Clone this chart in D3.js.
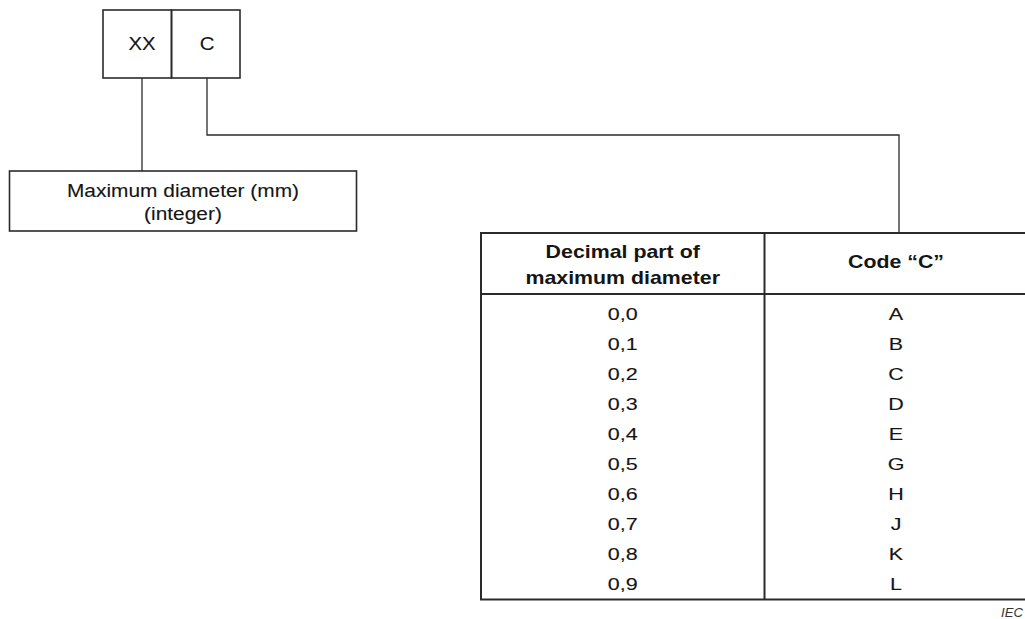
<!DOCTYPE html>
<html>
<head>
<meta charset="utf-8">
<script src="https://cdn.jsdelivr.net/npm/d3@7"></script>
<style>
  html, body { margin: 0; padding: 0; background: #fff; }
  svg { display: block; font-family: "Liberation Sans", Arial, sans-serif; }
</style>
</head>
<body>
<svg id="chart" width="1025" height="619"></svg>
<script>
// ---- data ----
const codeParts = ["XX", "C"];
const leftLabel = ["Maximum diameter (mm)", "(integer)"];
const headers = [["Decimal part of", "maximum diameter"], ["Code \u201cC\u201d"]];
const decimals = ["0,0", "0,1", "0,2", "0,3", "0,4", "0,5", "0,6", "0,7", "0,8", "0,9"];
const codes = ["A", "B", "C", "D", "E", "G", "H", "J", "K", "L"];
const footer = "IEC";

const svg = d3.select("#chart");
const ink = "#151515";
const lineCol = "#2b2b2b";
const thin = 0.12;

// ---- top code box ----
const boxX = d3.scaleBand().domain(codeParts).range([103, 240]);
const boxTop = 10, boxBottom = 78;
const gTop = svg.append("g");
gTop.selectAll("rect").data(codeParts).join("rect")
  .attr("x", d => boxX(d)).attr("y", boxTop)
  .attr("width", boxX.bandwidth()).attr("height", boxBottom - boxTop)
  .attr("fill", "none").attr("stroke", lineCol).attr("stroke-width", 1.6);
const anchorX = { "XX": 142, "C": 207 };
gTop.selectAll("text").data(codeParts).join("text")
  .attr("transform", d => `translate(${anchorX[d]},50) scale(1.1,1)`)
  .attr("text-anchor", "middle").attr("font-size", 18.5).attr("fill", ink)
  .attr("stroke", ink).attr("stroke-width", thin)
  .text(d => d);

// ---- connectors ----
const conn = svg.append("g").attr("fill", "none").attr("stroke", lineCol).attr("stroke-width", 1.3);
conn.append("path").attr("d", d3.line()([[anchorX.XX, boxBottom], [anchorX.XX, 171]]));
conn.append("path").attr("d", d3.line()([[anchorX.C, boxBottom], [anchorX.C, 135], [899, 135], [899, 233]]));

// ---- left label box ----
svg.append("rect").attr("x", 9.5).attr("y", 171).attr("width", 347).attr("height", 60)
  .attr("fill", "none").attr("stroke", lineCol).attr("stroke-width", 1.6);
const labY = d3.scaleLinear().domain([0, 1]).range([197, 220]);
svg.append("g").selectAll("text").data(leftLabel).join("text")
  .attr("transform", (d, i) => `translate(183,${labY(i)}) scale(1.13,1)`)
  .attr("text-anchor", "middle").attr("font-size", 18.5).attr("fill", ink)
  .attr("stroke", ink).attr("stroke-width", thin)
  .text(d => d);

// ---- table ----
const tLeft = 481, tDiv = 764.5, tRight = 1030, tTop = 233, tHead = 294, tBottom = 599.5;
const colCenter = [622.7, 896];
const tbl = svg.append("g").attr("fill", "none").attr("stroke", lineCol).attr("stroke-width", 2);
tbl.append("path").attr("d", d3.line()([[tRight, tTop], [tLeft, tTop], [tLeft, tBottom], [tRight, tBottom]]));
tbl.append("path").attr("d", d3.line()([[tLeft, tHead], [tRight, tHead]]));
tbl.append("path").attr("d", d3.line()([[tDiv, tTop], [tDiv, tBottom]]));

// header
const headY = [[257.5, 283.5], [268.3]];
headers.forEach((lines, c) => {
  svg.append("g").selectAll("text").data(lines).join("text")
    .attr("transform", (d, i) => `translate(${colCenter[c]},${headY[c][i]}) scale(1.22,1)`)
    .attr("text-anchor", "middle").attr("font-size", 17.5).attr("font-weight", "bold").attr("fill", ink)
    .text(d => d);
});

// body rows
const rowY = d3.scaleLinear().domain([0, decimals.length - 1]).range([320, 590]);
const body = svg.append("g").attr("font-size", 16.8).attr("fill", ink)
  .attr("stroke", ink).attr("stroke-width", thin).attr("text-anchor", "middle");
body.selectAll("text.dec").data(decimals).join("text").attr("class", "dec")
  .attr("transform", (d, i) => `translate(${colCenter[0]},${rowY(i)}) scale(1.28,1)`)
  .text(d => d);
body.selectAll("text.code").data(codes).join("text").attr("class", "code")
  .attr("transform", (d, i) => `translate(${colCenter[1]},${rowY(i)}) scale(1.28,1)`)
  .text(d => d);

// footer
svg.append("text").attr("transform", "translate(1001,617) scale(1.05,1)")
  .attr("font-size", 12.5).attr("font-style", "italic").attr("fill", "#333")
  .text(footer);
</script>
</body>
</html>
